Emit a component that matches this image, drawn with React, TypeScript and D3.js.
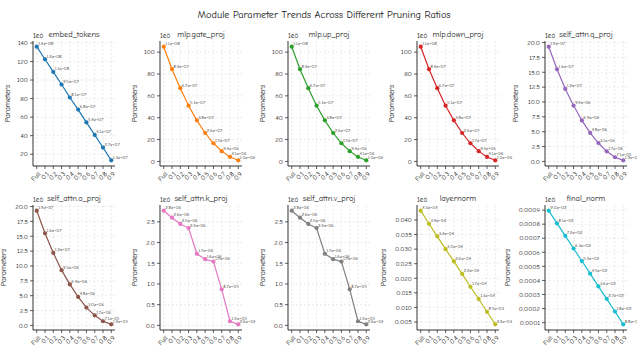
import React from "react";
import * as d3 from "d3";

// pruning ratios on the x axis
const ratios = ["Full", "0.1", "0.2", "0.3", "0.4", "0.5", "0.6", "0.7", "0.8", "0.9"];

const moduleNames = [
  "embed_tokens", "mlp.gate_proj", "mlp.up_proj", "mlp.down_proj", "self_attn.q_proj",
  "self_attn.o_proj", "self_attn.k_proj", "self_attn.v_proj", "layernorm", "final_norm",
];

// raw parameter counts
const embedTokens = [136.0e6, 122.4e6, 108.8e6, 95.2e6, 81.2e6, 68.1e6, 54.4e6, 40.8e6, 27.2e6, 13.4e6];
const mlpGate = [105.0e6, 84.4e6, 67.0e6, 51.0e6, 37.6e6, 26.0e6, 16.6e6, 9.4e6, 4.1e6, 1.0e6];
const mlpUp = [105.0e6, 84.4e6, 67.0e6, 51.0e6, 37.6e6, 26.0e6, 16.6e6, 9.4e6, 4.1e6, 1.0e6];
const mlpDown = [105.0e6, 84.4e6, 67.0e6, 51.0e6, 37.6e6, 26.0e6, 16.6e6, 9.4e6, 4.1e6, 1.0e6];
const attnQ = [19.3e6, 15.5e6, 12.2e6, 9.4e6, 6.9e6, 4.8e6, 3.1e6, 1.7e6, 0.71e6, 0.19e6];
const attnO = [19.3e6, 15.5e6, 12.2e6, 9.3e6, 6.9e6, 4.8e6, 3.0e6, 1.7e6, 0.71e6, 0.19e6];
const attnK = [2.77e6, 2.60e6, 2.45e6, 2.35e6, 1.73e6, 1.60e6, 1.54e6, 0.87e6, 0.10e6, 0.026e6];
const attnV = [2.77e6, 2.60e6, 2.45e6, 2.35e6, 1.73e6, 1.60e6, 1.54e6, 0.87e6, 0.10e6, 0.026e6];
const layerNorm = [43200, 38700, 34400, 30000, 25800, 21500, 17100, 12900, 8500, 4200];
const finalNorm = [896, 806, 717, 627, 538, 448, 358, 269, 179, 88];

// y tick values per panel (in units of 1e6)
const ticksEmbed = [20, 40, 60, 80, 100, 120, 140];
const ticksMlp = [0, 20, 40, 60, 80, 100];
const ticksAttnQO = [0, 2.5, 5, 7.5, 10, 12.5, 15, 17.5, 20];
const ticksAttnKV = [0, 0.5, 1, 1.5, 2, 2.5];
const ticksLayerNorm = [0.005, 0.01, 0.015, 0.02, 0.025, 0.03, 0.035, 0.04];
const ticksFinalNorm = [0.0001, 0.0002, 0.0003, 0.0004, 0.0005, 0.0006, 0.0007, 0.0008, 0.0009];

const seriesValues = [embedTokens, mlpGate, mlpUp, mlpDown, attnQ, attnO, attnK, attnV, layerNorm, finalNorm];
const seriesTicks = [ticksEmbed, ticksMlp, ticksMlp, ticksMlp, ticksAttnQO, ticksAttnQO, ticksAttnKV, ticksAttnKV, ticksLayerNorm, ticksFinalNorm];
const tickDecimals = [0, 0, 0, 0, 1, 1, 1, 1, 3, 4];

const colors = d3.schemeCategory10;
const FONT = "'Humor Sans', 'Comic Neue', 'DejaVu Sans', sans-serif";

const colLeft = [33, 160, 288, 417, 545];
const rowTop = [41, 205];
const plotW = 82;
const plotH = 125;

const sci = (v: number) => v.toExponential(1).replace(/e([+-])(\d)$/, "e$10$2");

function Panel({ idx }: { idx: number }) {
  const left = colLeft[idx % 5];
  const top = rowTop[Math.floor(idx / 5)];
  const vals = seriesValues[idx].map(v => v / 1e6);
  const color = colors[idx];

  const x = d3.scaleLinear().domain([-0.45, ratios.length - 1 + 0.45]).range([0, plotW]);
  const lo = d3.min(vals)!, hi = d3.max(vals)!;
  const pad = (hi - lo) * 0.05;
  const y = d3.scaleLinear().domain([lo - pad, hi + pad]).range([plotH, 0]);
  const ticks = seriesTicks[idx];
  const fmt = d3.format(`.${tickDecimals[idx]}f`);
  const line = d3.line<number>().x((_, i) => x(i)).y(d => y(d));

  const maxLabel = d3.max(ticks, t => fmt(t).length)!;
  const ylabelX = -(maxLabel * 4.2 + 10);

  return (
    <g transform={`translate(${left},${top})`}>
      {/* grid */}
      {ratios.map((_, i) => (
        <line key={"gx" + i} x1={x(i)} x2={x(i)} y1={0} y2={plotH} stroke="#d6d6d6" strokeWidth={0.5} strokeDasharray="2,2" />
      ))}
      {ticks.map(t => (
        <line key={"gy" + t} x1={0} x2={plotW} y1={y(t)} y2={y(t)} stroke="#d6d6d6" strokeWidth={0.5} strokeDasharray="2,2" />
      ))}
      {/* spines */}
      <line x1={0} x2={0} y1={0} y2={plotH} stroke="#333" strokeWidth={1} />
      <line x1={0} x2={plotW} y1={plotH} y2={plotH} stroke="#333" strokeWidth={1} />
      {/* y ticks */}
      {ticks.map(t => (
        <g key={"ty" + t} transform={`translate(0,${y(t)})`}>
          <line x1={-3} x2={0} stroke="#333" strokeWidth={0.8} />
          <text x={-5} dy="0.33em" textAnchor="end" fontSize={6.8} fill="#222">{fmt(t)}</text>
        </g>
      ))}
      {/* x ticks */}
      {ratios.map((r, i) => (
        <g key={"tx" + i} transform={`translate(${x(i)},${plotH})`}>
          <line y1={0} y2={3} stroke="#333" strokeWidth={0.8} />
          <text transform="translate(2,6) rotate(-45)" textAnchor="end" dy="0.5em" fontSize={6.8} fill="#222">{r}</text>
        </g>
      ))}
      {/* series */}
      <path d={line(vals)!} fill="none" stroke={color} strokeWidth={1.2} />
      {vals.map((v, i) => (
        <circle key={"p" + i} cx={x(i)} cy={y(v)} r={2.1} fill={color} />
      ))}
      {seriesValues[idx].map((v, i) => (
        <text key={"a" + i} x={x(i) + 1.5} y={y(vals[i]) - 1.5} fontSize={4.8} fill="#333">{sci(v)}</text>
      ))}
      {/* labels */}
      <text x={0} y={-3} fontSize={7.2} fill="#222">1e6</text>
      <text x={plotW / 2} y={-4} textAnchor="middle" fontSize={8.4} fill="#222">{moduleNames[idx]}</text>
      <text transform={`translate(${ylabelX},${plotH / 2}) rotate(-90)`} textAnchor="middle" fontSize={7.8} fill="#222">Parameters</text>
    </g>
  );
}

export default function App() {
  return (
    <svg width={637} height={346} style={{ position: "absolute", left: 0, top: 0, background: "#fff" }} fontFamily={FONT}>
      <rect width={637} height={346} fill="#fff" />
      <text x={324} y={18} textAnchor="middle" fontSize={10} fill="#111" textLength={253} lengthAdjust="spacingAndGlyphs">
        Module Parameter Trends Across Different Pruning Ratios
      </text>
      {moduleNames.map((_, i) => <Panel key={i} idx={i} />)}
    </svg>
  );
}
